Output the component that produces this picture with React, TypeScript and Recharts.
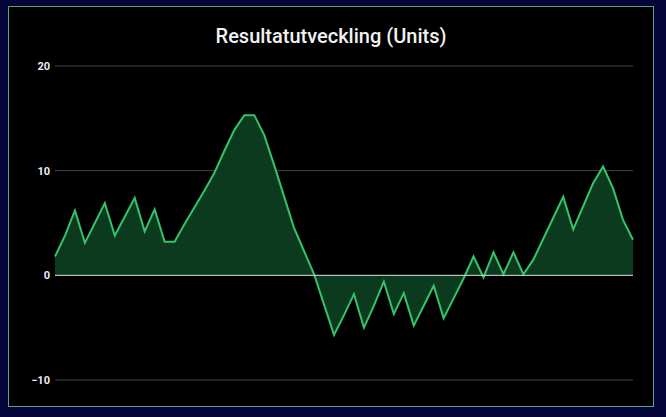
import { Area, AreaChart, CartesianGrid, ReferenceLine, YAxis, XAxis } from 'recharts'

// result per step (units)
const results = [
	1.8, 3.8, 6.2, 3.1, 5.0, 6.9, 3.8, 5.6, 7.4, 4.2,
	6.3, 3.2, 3.2, 4.9, 6.5, 8.1, 9.8, 11.9, 13.9, 15.3,
	15.3, 13.4, 10.5, 7.5, 4.5, 2.3, 0.1, -2.8, -5.7, -3.8,
	-1.8, -5.0, -2.9, -0.6, -3.7, -1.7, -4.8, -2.9, -1.0, -4.1,
	-2.2, -0.3, 1.8, -0.2, 2.2, 0.1, 2.2, 0.1, 1.5, 3.5,
	5.5, 7.5, 4.4, 6.6, 8.8, 10.4, 8.3, 5.3, 3.4,
]
const yTicks = [-10, 0, 10, 20]
const title = 'Resultatutveckling (Units)'

const data = results.map((value, i) => ({ step: i + 1, value }))

const fmt = (v: number) => (v < 0 ? `\u2212${-v}` : `${v}`)

const App = () => {
	return (
		<div
			style={{
				position: 'absolute',
				left: 0,
				top: 0,
				width: 666,
				height: 417,
				background: '#05053a',
				fontFamily: 'Roboto, sans-serif',
			}}
		>
			<div
				style={{
					position: 'absolute',
					left: 8,
					top: 6,
					width: 644,
					height: 399,
					background: '#000',
					border: '1px solid #5aa286',
				}}
			>
				<div
					style={{
						position: 'absolute',
						left: 0,
						top: 17,
						width: '100%',
						textAlign: 'center',
						color: '#f2f2f2',
						fontSize: 20,
						fontWeight: 500,
						lineHeight: '24px',
					}}
				>
					{title}
				</div>
				<AreaChart
					width={644}
					height={399}
					data={data}
					margin={{ top: 59, right: 20, left: 0, bottom: 26 }}
				>
					<CartesianGrid vertical={false} stroke='#444' />
					<XAxis dataKey='step' hide />
					<YAxis
						domain={[-10, 20]}
						ticks={yTicks}
						width={46}
						axisLine={false}
						tickLine={false}
						tickSize={3}
						tickMargin={2}
						tickFormatter={fmt}
						tick={{ fill: '#eee', fontSize: 11, fontWeight: 'bold' }}
					/>
					<Area
						type='linear'
						dataKey='value'
						stroke='#33c46a'
						strokeWidth={2}
						fill='#0c3a1e'
						fillOpacity={1}
						dot={false}
						activeDot={false}
						isAnimationActive={false}
					/>
					<ReferenceLine y={0} stroke='#d5dcd5' strokeWidth={1} />
				</AreaChart>
			</div>
		</div>
	)
}

export default App
